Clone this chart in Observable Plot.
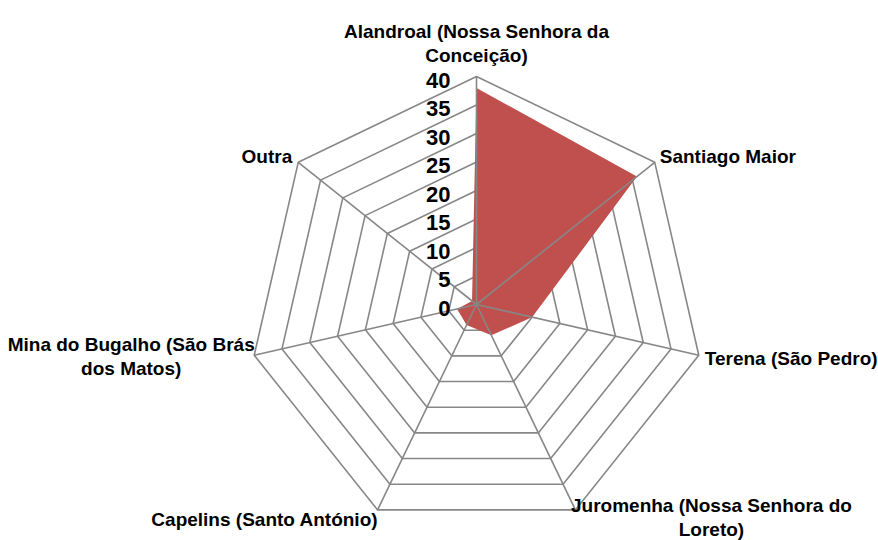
<!DOCTYPE html>
<html>
<head>
<meta charset="utf-8">
<script src="https://cdn.jsdelivr.net/npm/d3@7"></script>
<script src="https://cdn.jsdelivr.net/npm/@observablehq/plot@0.6"></script>
<style>
  html, body { margin: 0; padding: 0; background: #fff; }
  #chart svg { display: block; }
</style>
</head>
<body>
<div id="chart"></div>
<script>
const categories = [
  "Alandroal (Nossa Senhora da\nConceição)",
  "Santiago Maior",
  "Terena (São Pedro)",
  "Juromenha (Nossa Senhora do\nLoreto)",
  "Capelins (Santo António)",
  "Mina do Bugalho (São Brás\ndos Matos)",
  "Outra"
];
const values = [38, 36, 10, 6, 4, 3.5, 1];
const ticks = [0, 5, 10, 15, 20, 25, 30, 35, 40];
const maxValue = 40;

const W = 878, H = 540;
const cx = 476, cy = 304, unit = 5.7; // layout: centre pixel and px per value unit

const n = categories.length;
const angle = i => (i * 2 * Math.PI) / n;
const px = (v, i) => v * Math.sin(angle(i));
const py = (v, i) => v * Math.cos(angle(i));

// rings
const rings = [];
ticks.filter(t => t > 0).forEach(t => {
  for (let i = 0; i < n; i++) rings.push({ring: t, x: px(t, i), y: py(t, i)});
});
// spokes
const spokes = categories.map((c, i) => ({x1: 0, y1: 0, x2: px(maxValue, i), y2: py(maxValue, i)}));
// series polygon
const series = values.map((v, i) => ({x: px(v, i), y: py(v, i)}));
// labels
const labels = categories.map((c, i) => ({label: c, x: px(maxValue, i), y: py(maxValue, i), i}));

const labelStyle = [
  {textAnchor: "middle", dx: 0, dy: -15},
  {textAnchor: "start", dx: 5, dy: 1},
  {textAnchor: "start", dx: 6, dy: 10},
  {textAnchor: "middle", dx: 136, dy: 26},
  {textAnchor: "end", dx: 0, dy: 16},
  {textAnchor: "middle", dx: -123, dy: 20},
  {textAnchor: "end", dx: -6, dy: 1}
];

const grid = "#878787";
const font = "Liberation Sans, Arial, sans-serif";

const marks = [
  Plot.line(rings, {x: "x", y: "y", z: "ring", curve: "linear-closed", stroke: grid, strokeWidth: 1.6}),
  Plot.line(series, {x: "x", y: "y", curve: "linear-closed", fill: "#C0504D", stroke: "none"}),
  Plot.link(spokes, {x1: "x1", y1: "y1", x2: "x2", y2: "y2", stroke: grid, strokeWidth: 1.6}),
  Plot.text(ticks, {x: () => 0, y: d => d, text: d => String(d), textAnchor: "end", lineAnchor: "bottom",
    dx: -26, dy: 11, fontSize: 22, fontWeight: "bold", fontFamily: font, fill: "#000"})
];
labelStyle.forEach((s, i) => {
  marks.push(Plot.text(labels.filter(d => d.i === i), {
    x: "x", y: "y", text: "label", textAnchor: s.textAnchor, lineAnchor: "bottom",
    dx: s.dx, dy: s.dy, fontSize: 19, lineHeight: 24 / 19, fontWeight: "bold", fontFamily: font, fill: "#000"
  }));
});

const chart = Plot.plot({
  width: W,
  height: H,
  margin: 0,
  style: {fontFamily: font, background: "#fff", overflow: "visible"},
  x: {domain: [-cx / unit, (W - cx) / unit], axis: null},
  y: {domain: [(cy - H) / unit, cy / unit], axis: null},
  marks
});
document.getElementById("chart").appendChild(chart);
</script>
</body>
</html>
